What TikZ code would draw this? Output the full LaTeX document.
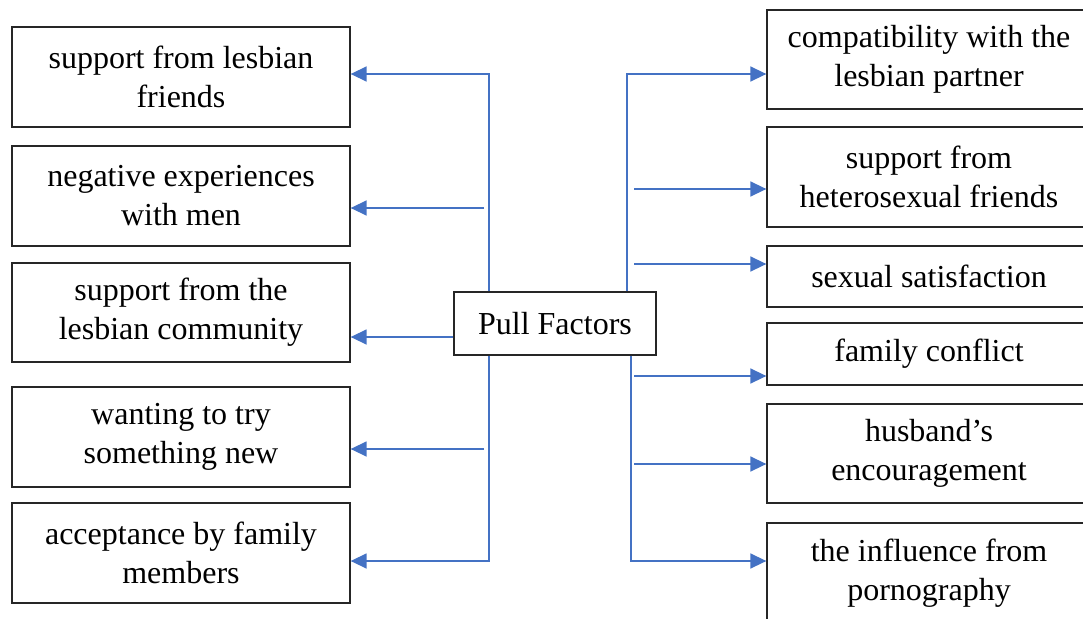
\documentclass[tikz,border=0pt]{standalone}
\usepackage{fontspec}
\setmainfont{Liberation Serif}
\usetikzlibrary{arrows.meta}
\definecolor{linkblue}{HTML}{4472C4}
\tikzset{
  factorbox/.style={draw=black!85, line width=1.3pt, align=center, inner sep=0pt,
    font=\fontsize{32}{39}\selectfont},
  leftbox/.style={factorbox, minimum width=338pt, minimum height=100pt},
  rightbox/.style={factorbox, minimum width=324pt},
  link/.style={draw=linkblue, line width=1.5pt},
  linkarrow/.style={link, -{Triangle[length=16pt,width=15pt]}},
}
\begin{document}
\begin{tikzpicture}[x=1pt,y=-1pt]
\useasboundingbox (0,0) rectangle (1083,618);
\clip (0,0) rectangle (1083,618);
% centre
\node[factorbox, minimum width=202pt, minimum height=63pt] (c) at (555,323.5) {Pull Factors};
% left boxes
\node[leftbox] (l1) at (181,77) {support from lesbian\\friends};
\node[leftbox] (l2) at (181,196) {negative experiences\\with men};
\node[leftbox, minimum height=99pt] (l3) at (181,312.5) {support from the\\lesbian community};
\node[leftbox] (l4) at (181,437) {wanting to try\\something new};
\node[leftbox] (l5) at (181,553) {acceptance by family\\members};
% right boxes
\node[rightbox, minimum height=99pt] (r1) at (929,59.5) {compatibility with the\\lesbian partner};
\node[rightbox, minimum height=100pt] (r2) at (929,177) {support from\\heterosexual friends};
\node[rightbox, minimum height=61pt] (r3) at (929,276.5) {sexual satisfaction};
\node[rightbox, minimum height=62pt] (r4) at (929,354) {family conflict};
\node[rightbox, minimum height=99pt] (r5) at (929,453.5) {husband’s\\encouragement};
\node[rightbox, minimum height=100pt] (r6) at (929,573) {the influence from\\pornography};
% junction coordinates
\coordinate (jl1) at (489,74);
\coordinate (sl2) at (484,208);
\coordinate (sl4) at (484,449);
\coordinate (jl5) at (489,561);
\coordinate (jr1) at (627,74);
\coordinate (sr2) at (634,189);
\coordinate (sr3) at (634,264);
\coordinate (sr4) at (634,376);
\coordinate (sr5) at (634,464);
\coordinate (jr6) at (631,561);
% left connectors
\draw[linkarrow] (c.north -| jl1) -- (jl1) -- (jl1 -| l1.east);
\draw[linkarrow] (sl2) -- (sl2 -| l2.east);
\draw[linkarrow] (c.west |- 0,337) -- (l3.east |- 0,337);
\draw[linkarrow] (sl4) -- (sl4 -| l4.east);
\draw[linkarrow] (c.south -| jl5) -- (jl5) -- (jl5 -| l5.east);
% right connectors
\draw[linkarrow] (c.north -| jr1) -- (jr1) -- (jr1 -| r1.west);
\draw[linkarrow] (sr2) -- (sr2 -| r2.west);
\draw[linkarrow] (sr3) -- (sr3 -| r3.west);
\draw[linkarrow] (sr4) -- (sr4 -| r4.west);
\draw[linkarrow] (sr5) -- (sr5 -| r5.west);
\draw[linkarrow] (c.south -| jr6) -- (jr6) -- (jr6 -| r6.west);
\end{tikzpicture}
\end{document}
